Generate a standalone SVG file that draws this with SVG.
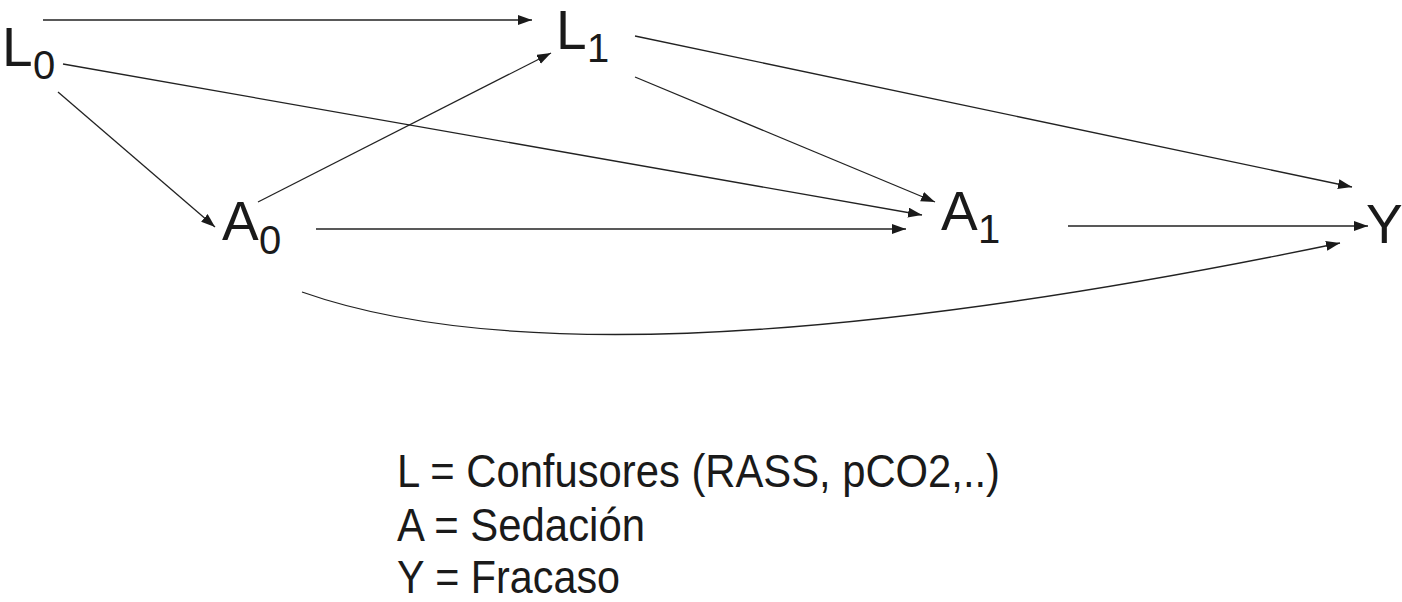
<svg xmlns="http://www.w3.org/2000/svg" width="1402" height="602" viewBox="0 0 1402 602">
<defs>
<style>
.lbl{font-family:"Liberation Sans",Arial,sans-serif;fill:#1a1a1a;}
.main{font-size:55px;}
.sub{font-size:40px;}
.leg{font-family:"Liberation Sans",Arial,sans-serif;fill:#1a1a1a;font-size:46px;}
.edge{stroke:#222;stroke-width:1.3;fill:none;marker-end:url(#ah);}
</style>
<marker id="ah" markerUnits="userSpaceOnUse" markerWidth="15" markerHeight="11" refX="14" refY="5" orient="auto">
<path d="M0,0 L14,5 L0,10 z" fill="#1a1a1a"/>
</marker>
</defs>
<rect width="1402" height="602" fill="#fff"/>
<g id="connectors">
<line class="edge" x1="43" y1="20" x2="532" y2="20"/>
<line class="edge" x1="63" y1="64" x2="922" y2="215"/>
<line class="edge" x1="58" y1="92" x2="215" y2="227"/>
<line class="edge" x1="258" y1="202" x2="551" y2="53"/>
<line class="edge" x1="316" y1="229" x2="906" y2="229"/>
<line class="edge" x1="635" y1="77" x2="935" y2="202"/>
<line class="edge" x1="635" y1="36" x2="1352" y2="187"/>
<line class="edge" x1="1068" y1="226" x2="1368" y2="226"/>
<path class="edge" d="M302,292 C480,355 800,355 1340,243"/>
</g>
<g id="L0"><text class="lbl main" x="2" y="66">L</text><text class="lbl sub" x="33" y="79">0</text></g>
<g id="L1"><text class="lbl main" x="556" y="49">L</text><text class="lbl sub" x="587" y="62">1</text></g>
<g id="A0"><text class="lbl main" x="222" y="240">A</text><text class="lbl sub" x="259" y="254">0</text></g>
<g id="A1"><text class="lbl main" x="941" y="230">A</text><text class="lbl sub" x="978" y="243">1</text></g>
<g id="Y"><text class="lbl main" x="1366" y="243">Y</text></g>
<g id="legend">
<text class="leg" x="397" y="487" textLength="603" lengthAdjust="spacingAndGlyphs">L = Confusores (RASS, pCO2,..)</text>
<text class="leg" x="397" y="541" textLength="248" lengthAdjust="spacingAndGlyphs">A = Sedación</text>
<text class="leg" x="397" y="593" textLength="223" lengthAdjust="spacingAndGlyphs">Y = Fracaso</text>
</g>
</svg>
